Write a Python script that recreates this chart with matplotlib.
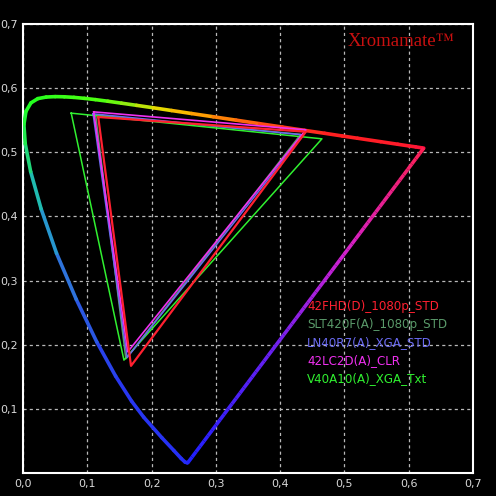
import numpy as np
import matplotlib
matplotlib.use("Agg")
import matplotlib.pyplot as plt
from matplotlib.collections import LineCollection
from matplotlib.colors import LinearSegmentedColormap

# Spectral locus in CIE 1976 u'v' (2 deg observer)
wavelengths = [380, 400, 420, 430, 440, 450, 460, 465, 470, 475, 480, 485, 490, 495,
               500, 505, 510, 515, 520, 525, 530, 535, 540, 545, 550, 555, 560, 565,
               570, 575, 580, 585, 590, 595, 600, 605, 610, 615, 620, 630, 640, 650,
               660, 680, 700]
locus_u = [0.2568, 0.2557, 0.2522, 0.2461, 0.2347, 0.2161, 0.1877, 0.1690, 0.1441, 0.1147,
           0.0828, 0.0521, 0.0282, 0.0119, 0.0035, 0.0014, 0.0046, 0.0123, 0.0231, 0.0360,
           0.0501, 0.0643, 0.0792, 0.0953, 0.1127, 0.1319, 0.1531, 0.1766, 0.2026, 0.2312,
           0.2623, 0.2960, 0.3315, 0.3681, 0.4035, 0.4379, 0.4692, 0.4968, 0.5203, 0.5565,
           0.5830, 0.6005, 0.6109, 0.6199, 0.6234]
locus_v = [0.0166, 0.0159, 0.0169, 0.0226, 0.0350, 0.0549, 0.0871, 0.1119, 0.1510, 0.2044,
           0.2708, 0.3427, 0.4117, 0.4698, 0.5131, 0.5432, 0.5638, 0.5770, 0.5837, 0.5861,
           0.5868, 0.5865, 0.5856, 0.5841, 0.5821, 0.5796, 0.5766, 0.5732, 0.5694, 0.5651,
           0.5604, 0.5554, 0.5501, 0.5446, 0.5393, 0.5342, 0.5296, 0.5254, 0.5219, 0.5165,
           0.5125, 0.5099, 0.5084, 0.5070, 0.5065]

# Display gamuts (u', v') : green, red, blue vertices
devices = ["42FHD(D)_1080p_STD", "SLT420F(A)_1080p_STD", "LN40R7(A)_XGA_STD",
           "42LC2D(A)_CLR", "V40A10(A)_XGA_Txt"]
gamut_u = [[0.117, 0.440, 0.168],
           [0.113, 0.432, 0.160],
           [0.109, 0.436, 0.162],
           [0.110, 0.440, 0.163],
           [0.075, 0.465, 0.157]]
gamut_v = [[0.555, 0.532, 0.167],
           [0.558, 0.528, 0.178],
           [0.560, 0.527, 0.180],
           [0.563, 0.535, 0.189],
           [0.561, 0.521, 0.176]]
device_colors = ["#ff2030", "#5a9a6a", "#6a6af0", "#f030f0", "#30f030"]
device_lw = [1.6, 1.1, 1.1, 1.2, 1.1]

x_ticks = [0.0, 0.1, 0.2, 0.3, 0.4, 0.5, 0.6, 0.7]
y_ticks = [0.1, 0.2, 0.3, 0.4, 0.5, 0.6, 0.7]
x_labels = ["0,0", "0,1", "0,2", "0,3", "0,4", "0,5", "0,6", "0,7"]
y_labels = ["0,1", "0,2", "0,3", "0,4", "0,5", "0,6", "0,7"]

fig = plt.figure(figsize=(4.96, 4.96), dpi=100, facecolor="black")
ax = fig.add_axes([23/496, 23/496, 450/496, 449/496])
ax.set_facecolor("black")
ax.set_xlim(0, 0.7)
ax.set_ylim(0, 0.7)

ax.set_xticks(x_ticks)
ax.set_xticklabels(x_labels)
ax.set_yticks(y_ticks)
ax.set_yticklabels(y_labels)
ax.tick_params(length=0, colors="#d8d8d8", labelsize=8, pad=4)
for sp in ax.spines.values():
    sp.set_color("white")
    sp.set_linewidth(1.5)
ax.grid(True, color="#b8b8b8", linestyle=(0, (2.5, 2.5)), linewidth=0.9)
ax.set_axisbelow(True)

# spectral locus coloured by wavelength (anchor wavelength -> colour)
def wl_frac(w):
    return (w - 380) / 320.0

loc_cmap = LinearSegmentedColormap.from_list("loc", [
    (wl_frac(380), "#2020ff"), (wl_frac(470), "#2838f0"), (wl_frac(480), "#2c60e0"),
    (wl_frac(485), "#3080d8"), (wl_frac(490), "#20a8c8"), (wl_frac(495), "#20c8a0"),
    (wl_frac(500), "#20e060"), (wl_frac(505), "#20f040"), (wl_frac(515), "#20ff20"),
    (wl_frac(555), "#50ff10"), (wl_frac(565), "#a0e810"), (wl_frac(572), "#e0e000"),
    (wl_frac(580), "#ffb000"), (wl_frac(590), "#ff7808"), (wl_frac(600), "#ff4018"),
    (wl_frac(612), "#ff2020"), (wl_frac(700), "#ff1040")])
lu = np.array(locus_u); lv = np.array(locus_v); wl = np.array(wavelengths, float)
pts = np.column_stack([lu, lv]).reshape(-1, 1, 2)
segs = np.concatenate([pts[:-1], pts[1:]], axis=1)
wmid = (wl[:-1] + wl[1:]) / 2
lc = LineCollection(segs, colors=loc_cmap(wl_frac(wmid)), linewidth=2.6,
                    capstyle="round", joinstyle="round", zorder=3)
ax.add_collection(lc)

# purple line (380 nm -> 700 nm)
pur_cmap = LinearSegmentedColormap.from_list("pur", [
    (0.0, "#2020ff"), (0.35, "#6a20f0"), (0.65, "#d020d0"), (1.0, "#ff2050")])
t = np.linspace(0, 1, 60)
pu = lu[0] + (lu[-1] - lu[0]) * t
pv = lv[0] + (lv[-1] - lv[0]) * t
ppts = np.column_stack([pu, pv]).reshape(-1, 1, 2)
psegs = np.concatenate([ppts[:-1], ppts[1:]], axis=1)
plc = LineCollection(psegs, colors=pur_cmap(t[:-1]), linewidth=2.6, zorder=3)
ax.add_collection(plc)

# device gamuts
order = [1, 4, 2, 3, 0]
for i in order:
    u = gamut_u[i] + [gamut_u[i][0]]
    v = gamut_v[i] + [gamut_v[i][0]]
    ax.plot(u, v, color=device_colors[i], linewidth=device_lw[i], zorder=4)

# legend texts
for k, (name, col) in enumerate(zip(devices, device_colors)):
    ax.text(0.442, 0.260 - k * 0.0283, name, color=col, fontsize=8.6,
            ha="left", va="center", zorder=5)

ax.text(0.505, 0.672, "Xromamate\u2122", color="#c81010", fontsize=13.5,
        family="Liberation Serif", ha="left", va="center", zorder=5)

fig.savefig("out.png", dpi=100, facecolor="black")
